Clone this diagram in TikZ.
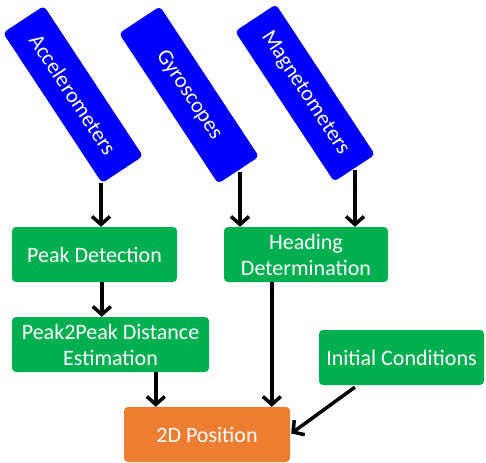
\documentclass[tikz,border=0pt]{standalone}
\usepackage{fontspec}
\setmainfont{Carlito}
\usetikzlibrary{arrows.meta,calc}
\definecolor{sensorblue}{RGB}{0,0,250}
\definecolor{procgreen}{RGB}{0,176,80}
\definecolor{outorange}{RGB}{237,125,49}
\begin{document}
\begin{tikzpicture}[x=1pt,y=-1pt,
  sensor/.style={fill=sensorblue,rounded corners=4pt,minimum width=180pt,minimum height=49pt,
    inner sep=0pt,text=white,rotate=-56.6,font=\fontsize{22}{26}\selectfont},
  proc/.style={fill=procgreen,rounded corners=4pt,inner sep=0pt,text=white,align=center,
    font=\fontsize{22}{26}\selectfont},
  outbox/.style={fill=outorange,rounded corners=4pt,inner sep=0pt,text=white,
    font=\fontsize{22}{26}\selectfont},
  arr/.style={line width=3.5pt,-{Straight Barb[length=8pt,width=18pt]}}]
\useasboundingbox (0,0) rectangle (486,462);
\node[sensor] (acc) at (73,94.5) {Accelerometers};
\node[sensor] (gyr) at (189,95) {Gyroscopes};
\node[sensor] (mag) at (305,93) {Magnetometers};
\node[proc,minimum width=165pt,minimum height=55pt] (pd) at (94.5,254.5) {Peak Detection};
\node[proc,minimum width=197pt,minimum height=55pt] (pp) at (110.5,344.5) {Peak2Peak Distance\\Estimation};
\node[proc,minimum width=164pt,minimum height=55pt] (hd) at (306,254.5) {Heading\\Determination};
\node[proc,minimum width=165pt,minimum height=55pt] (ic) at (401.5,357.5) {Initial Conditions};
\node[outbox,minimum width=166pt,minimum height=55pt] (pos) at (207,434.5) {2D Position};
\coordinate (accout) at (101,183);
\coordinate (gyrout) at (240,172);
\coordinate (magout) at (355,170);
\draw[arr] (accout) -- (accout |- pd.north);
\draw[arr] (gyrout) -- (gyrout |- hd.north);
\draw[arr] (magout) -- (magout |- hd.north);
\draw[arr] ($(pd.south west)+(90,0)$) -- ($(pp.north west)+(90,0)$);
\draw[arr] ($(pp.south west)+(144,0)$) -- ($(pos.north west)+(32,0)$);
\draw[arr] ($(hd.south west)+(48,0)$) -- ($(pos.north west)+(148,0)$);
\draw[arr] ($(ic.south west)+(36,2)$) -- ($(pos.east)+(1,-1)$);
\end{tikzpicture}
\end{document}
